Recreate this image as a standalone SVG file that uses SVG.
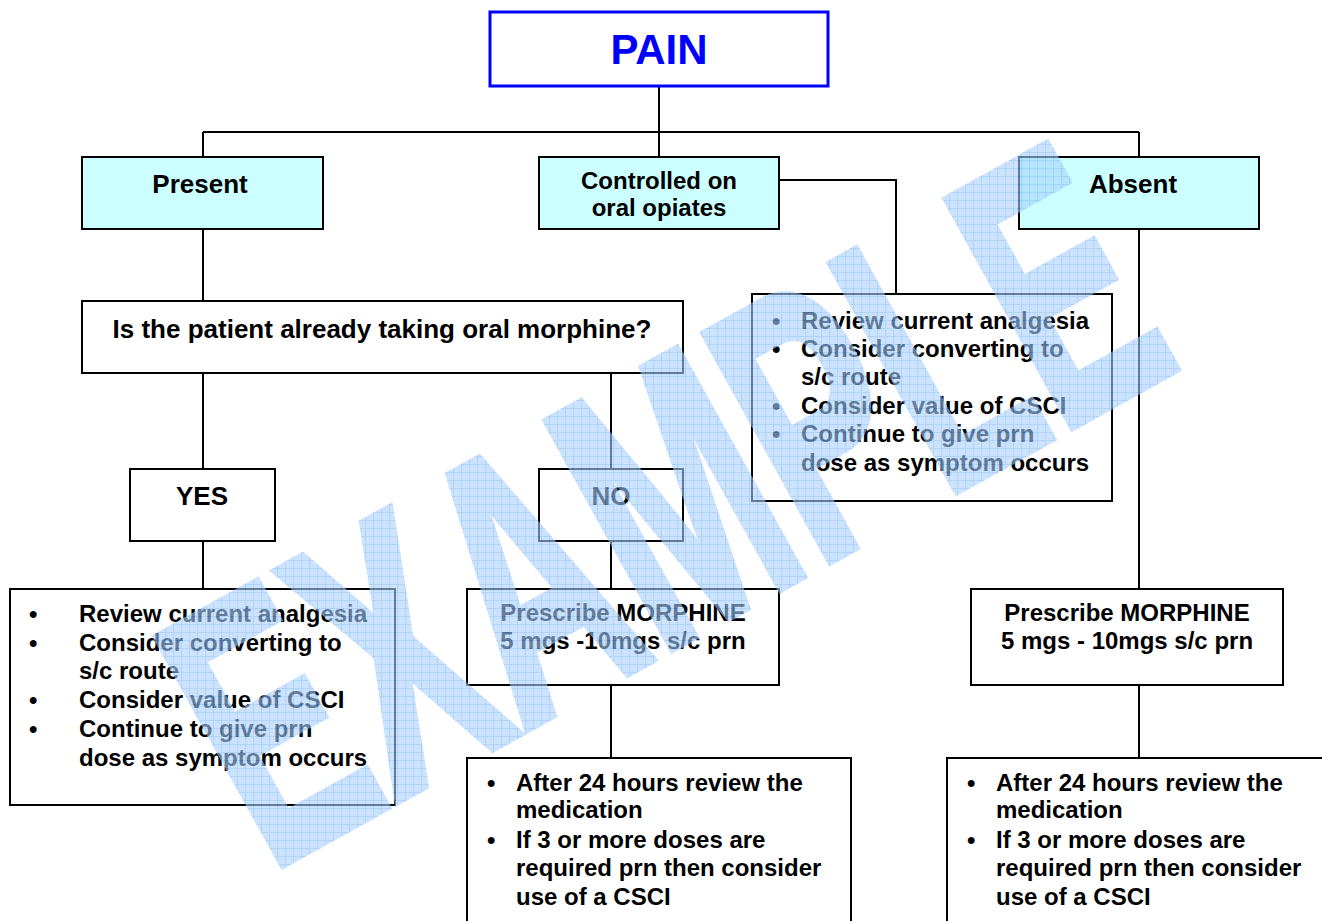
<svg xmlns="http://www.w3.org/2000/svg" width="1322" height="921" viewBox="0 0 1322 921">
<defs>
<style>
.box{fill:#ffffff;stroke:#000;stroke-width:2}
.cyan{fill:#ccffff;stroke:#000;stroke-width:2}
.t{font-family:"Liberation Sans",Arial,sans-serif;font-weight:bold;fill:#000}
.c{text-anchor:middle}
.s24{font-size:24px}
.s26{font-size:26px}
.ln{fill:none;stroke:#000;stroke-width:2}
</style>
<pattern id="grid" patternUnits="userSpaceOnUse" width="8" height="8" patternTransform="scale(1,0.5747) rotate(29)">
<rect width="8" height="8" fill="#a9d1ff"/>
<path d="M0 0.5H8M0.5 0V8" stroke="#7fb6f4" stroke-width="1"/>
</pattern>
</defs>
<rect width="1322" height="921" fill="#ffffff"/>

<g id="connectors">
<path class="ln" d="M659 86V157M203 132H1139M203 132V157M1139 132V157"/>
<path class="ln" d="M779 180H896V294"/>
<path class="ln" d="M203 229V301"/>
<path class="ln" d="M203 373V469M611 373V469"/>
<path class="ln" d="M203 541V589M611 541V589M611 685V758"/>
<path class="ln" d="M1139 229V589M1139 685V758"/>
</g>

<g id="pain">
<rect x="490" y="12" width="338" height="74" fill="#fff" stroke="#0000ff" stroke-width="3"/>
<text class="t c" x="659" y="64" style="font-size:42px;fill:#0000ff">PAIN</text>
</g>

<g id="present">
<rect class="cyan" x="82" y="157" width="241" height="72"/>
<text class="t c s26" x="200" y="193">Present</text>
</g>

<g id="controlled">
<rect class="cyan" x="539" y="157" width="240" height="72"/>
<text class="t c s24" x="659" y="189">Controlled on</text>
<text class="t c s24" x="659" y="216">oral opiates</text>
</g>

<g id="absent">
<rect class="cyan" x="1019" y="157" width="240" height="72"/>
<text class="t c s26" x="1133" y="193">Absent</text>
</g>

<g id="review-right">
<rect class="box" x="752" y="294" width="360" height="207"/>
<g class="t s24">
<text x="772" y="329">•</text><text x="801" y="329">Review current analgesia</text>
<text x="772" y="357">•</text><text x="801" y="357">Consider converting to</text>
<text x="801" y="385">s/c route</text>
<text x="772" y="414">•</text><text x="801" y="414">Consider value of CSCI</text>
<text x="772" y="442">•</text><text x="801" y="442">Continue to give prn</text>
<text x="801" y="471">dose as symptom occurs</text>
</g>
</g>

<g id="question">
<rect class="box" x="82" y="301" width="601" height="72"/>
<text class="t c s26" x="382" y="338">Is the patient already taking oral morphine?</text>
</g>

<g id="yes">
<rect class="box" x="130" y="469" width="145" height="72"/>
<text class="t c s26" x="202" y="505">YES</text>
</g>

<g id="no">
<rect class="box" x="539" y="469" width="144" height="72"/>
<text class="t c s26" x="611" y="505">NO</text>
</g>

<g id="review-left">
<rect class="box" x="10" y="589" width="385" height="216"/>
<g class="t s24">
<text x="29" y="622">•</text><text x="79" y="622">Review current analgesia</text>
<text x="29" y="651">•</text><text x="79" y="651">Consider converting to</text>
<text x="79" y="679">s/c route</text>
<text x="29" y="708">•</text><text x="79" y="708">Consider value of CSCI</text>
<text x="29" y="737">•</text><text x="79" y="737">Continue to give prn</text>
<text x="79" y="766">dose as symptom occurs</text>
</g>
</g>

<g id="prescribe-mid">
<rect class="box" x="467" y="589" width="312" height="96"/>
<text class="t c s24" x="623" y="621">Prescribe MORPHINE</text>
<text class="t c s24" x="623" y="649">5 mgs -10mgs s/c prn</text>
</g>

<g id="prescribe-right">
<rect class="box" x="971" y="589" width="312" height="96"/>
<text class="t c s24" x="1127" y="621">Prescribe MORPHINE</text>
<text class="t c s24" x="1127" y="649">5 mgs - 10mgs s/c prn</text>
</g>

<g id="after-mid">
<rect class="box" x="467" y="758" width="384" height="170"/>
<g class="t s24">
<text x="487" y="791">•</text><text x="516" y="791">After 24 hours review the</text>
<text x="516" y="818">medication</text>
<text x="487" y="848">•</text><text x="516" y="848">If 3 or more doses are</text>
<text x="516" y="876">required prn then consider</text>
<text x="516" y="905">use of a CSCI</text>
</g>
</g>

<g id="after-right">
<rect class="box" x="947" y="758" width="390" height="170"/>
<g class="t s24">
<text x="967" y="791">•</text><text x="996" y="791">After 24 hours review the</text>
<text x="996" y="818">medication</text>
<text x="967" y="848">•</text><text x="996" y="848">If 3 or more doses are</text>
<text x="996" y="876">required prn then consider</text>
<text x="996" y="905">use of a CSCI</text>
</g>
</g>

<g id="watermark" opacity="0.6">
<text transform="translate(269,872) rotate(-29) scale(1,1.74)" x="0" y="0" style="font-family:'Liberation Sans',Arial,sans-serif;font-weight:bold;font-size:216.7px" fill="url(#grid)" stroke="url(#grid)" stroke-width="5" stroke-linejoin="miter">EXAMPLE</text>
</g>
</svg>
